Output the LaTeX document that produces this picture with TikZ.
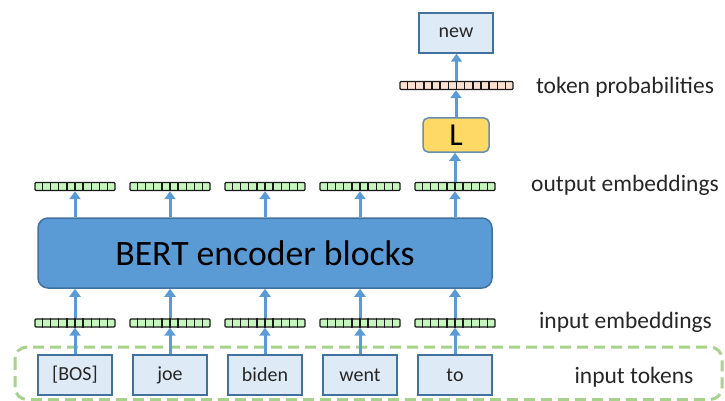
\documentclass[tikz,border=0pt]{standalone}
\usepackage{fontspec}
\setmainfont{Carlito}
\usetikzlibrary{arrows.meta,calc}
\definecolor{arrowblue}{HTML}{5B9BD5}
\definecolor{boxfill}{HTML}{DEEBF7}
\definecolor{boxline}{HTML}{41719C}
\definecolor{bertfill}{HTML}{5B9BD5}
\definecolor{cellgreen}{HTML}{C6F5BE}
\definecolor{cellpink}{HTML}{FBE0D2}
\definecolor{lyellow}{HTML}{FFD966}
\definecolor{dashgreen}{HTML}{A9D18E}
\definecolor{inkgray}{HTML}{262626}

% split a bar node into equal cells
\newcommand\barcells[2]{%
  \foreach \i in {1,...,#2}{%
    \pgfmathsetmacro\cellpos{\i/(#2+1)}%
    \draw[line width=1.4pt, black!90]
      ($(#1.south west)!\cellpos!(#1.south east)$) -- ($(#1.north west)!\cellpos!(#1.north east)$);
  }%
}

\begin{document}
\begin{tikzpicture}[x=1pt,y=-1pt,
  tokbox/.style={draw=boxline, fill=boxfill, line width=1.5pt, minimum width=74pt,
    minimum height=40pt, inner sep=0pt, text=inkgray, font=\fontsize{20}{20}\selectfont},
  embbar/.style={draw=black!90, fill=cellgreen, line width=1.4pt, minimum width=80pt,
    minimum height=8pt, inner sep=0pt, rounded corners=1pt},
  probbar/.style={embbar, fill=cellpink, minimum width=113pt},
  flow/.style={draw=arrowblue, line width=3pt, -{Triangle[length=8pt,width=11pt]}},
  lbl/.style={font=\fontsize{23.5}{24}\selectfont, text=inkgray},
]
\useasboundingbox (0,0) rectangle (725,401);

% dashed frame around the input tokens
\draw[dashgreen, line width=3pt, rounded corners=12pt, dash pattern=on 11pt off 6pt]
  (15,347) rectangle (722,399.5);

% tokens, input and output embeddings per column
\foreach \t [count=\k from 0] in {[BOS],joe,biden,went,to}{
  \pgfmathsetmacro\cx{75+95*\k}
  \node[tokbox] (tok\k) at (\cx,375) {\t};
  \node[embbar] (in\k) at (\cx,323) {};
  \barcells{in\k}{9}
  \node[embbar] (out\k) at (\cx,186.5) {};
  \barcells{out\k}{9}
}

% encoder
\node[draw=boxline, fill=bertfill, line width=1.5pt, rounded corners=10pt,
  minimum width=454pt, minimum height=70pt, inner sep=0pt,
  font=\fontsize{35.7}{36}\selectfont, text=black] (bert) at (265,253) {BERT encoder blocks};

% prediction head
\node[draw=boxline!80, fill=lyellow, line width=1.5pt, rounded corners=5pt,
  minimum width=66pt, minimum height=34pt, inner sep=0pt,
  font=\fontsize{32}{32}\selectfont, text=black] (L) at (456,135) {L};
\node[probbar] (prob) at (456.5,85.5) {};
\barcells{prob}{13}
\node[tokbox] (new) at (456,33) {new};

% connectors
\foreach \k in {0,...,4}{
  \draw[flow] (tok\k.north) -- (in\k.south);
  \draw[flow] (in\k.north) -- (in\k.north |- bert.south);
  \draw[flow] (out\k.south |- bert.north) -- (out\k.south);
}
\draw[flow] (out4.north) -- (out4.north |- L.south);
\draw[flow] (L.north) -- (L.north |- prob.south);
\draw[flow] (prob.north) -- (prob.north |- new.south);

% row labels
\node[lbl] (lprob) at (625,87) {token probabilities};
\node[lbl] (lout) at (625,185) {output embeddings};
\node[lbl] (lin) at (625.5,322) {input embeddings};
\node[lbl] (ltok) at (634,377) {input tokens};
\end{tikzpicture}
\end{document}
